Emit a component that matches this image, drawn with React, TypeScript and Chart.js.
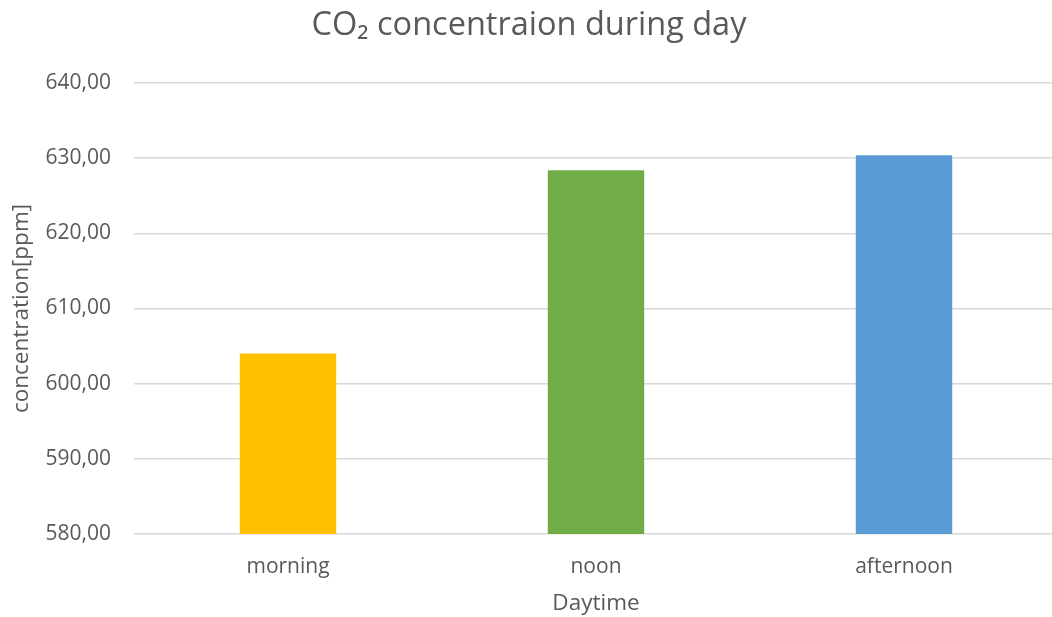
import React, { useEffect, useRef } from "react";
import { Chart, registerables } from "chart.js";

Chart.register(...registerables);

const categories = ["morning", "noon", "afternoon"];
const concentration = [604.0, 628.4, 630.4];
const barColors = ["#FFC000", "#70AD47", "#5B9BD5"];
const yMin = 580;
const yMax = 640;
const yStep = 10;
const chartTitle = "CO\u2082 concentraion during day";
const xTitle = "Daytime";
const yTitle = "concentration[ppm]";

const FONT = "'Open Sans', 'Noto Sans', sans-serif";
const TEXT = "#595959";

export default function App() {
  const ref = useRef<HTMLCanvasElement | null>(null);

  useEffect(() => {
    if (!ref.current) return;
    const chart = new Chart(ref.current, {
      type: "bar",
      data: {
        labels: categories,
        datasets: [
          {
            data: concentration,
            backgroundColor: barColors,
            borderWidth: 0,
            categoryPercentage: 1,
            barPercentage: 0.313,
          },
        ],
      },
      options: {
        responsive: false,
        animation: false,
        layout: { padding: { left: 0, right: 0, top: 0, bottom: 0 } },
        plugins: {
          legend: { display: false },
          tooltip: { enabled: false },
          title: {
            display: true,
            text: chartTitle,
            color: TEXT,
            font: { family: FONT, size: 32.5, weight: "normal" },
            padding: { top: 6, bottom: 38 },
          },
        },
        scales: {
          x: {
            grid: { display: false, drawTicks: false },
            border: { display: false },
            ticks: {
              color: TEXT,
              font: { family: FONT, size: 21 },
              padding: 20,
            },
            title: {
              display: true,
              text: xTitle,
              color: TEXT,
              font: { family: FONT, size: 22.5 },
              padding: { top: 4, bottom: 0 },
            },
            afterFit: (s: any) => {
              s.height = 83;
            },
          },
          y: {
            min: yMin,
            max: yMax,
            grid: { color: "#D9D9D9", lineWidth: 1.5, drawTicks: false },
            border: { display: false },
            ticks: {
              stepSize: yStep,
              color: TEXT,
              font: { family: FONT, size: 21 },
              padding: 23,
              callback: (v: any) => Number(v).toFixed(2).replace(".", ","),
            },
            title: {
              display: true,
              text: yTitle,
              color: TEXT,
              font: { family: FONT, size: 22.5 },
              padding: { top: 8, bottom: 0 },
            },
            afterFit: (s: any) => {
              s.width = 134;
            },
          },
        },
      },
    });
    return () => chart.destroy();
  }, []);

  return (
    <div
      style={{
        position: "fixed",
        left: 0,
        top: 0,
        width: 1052,
        height: 617,
        overflow: "hidden",
        background: "#fff",
      }}
    >
      <canvas
        ref={ref}
        width={1058}
        height={617}
        style={{ width: 1058, height: 617, display: "block" }}
      />
    </div>
  );
}
